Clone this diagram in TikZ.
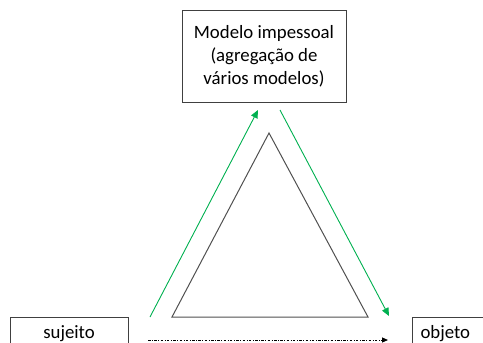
\documentclass[tikz,border=0pt]{standalone}
\usepackage{fontspec}
\setmainfont{Carlito}
\usetikzlibrary{arrows.meta}
\definecolor{boxgray}{HTML}{404040}
\definecolor{trigray}{HTML}{505050}
\definecolor{arrgreen}{HTML}{00B050}
\tikzset{
  box/.style={draw=boxgray, line width=1pt, font=\fontsize{18.8}{23}\selectfont},
  greenarr/.style={draw=arrgreen, line width=0.9pt, -{Triangle[length=8pt,width=7pt]}},
  dotarr/.style={draw=black, line width=1pt, dash pattern=on 2.5pt off 1.5pt on 0.8pt off 1.5pt, -{Triangle[length=6pt,width=5pt]}}
}
\begin{document}
\begin{tikzpicture}[x=1pt,y=1pt]
  \useasboundingbox (0,0) rectangle (483,-343);
  % nodes
  \node [box, align=center, minimum width=164, minimum height=92] (modelo) at (264,-56)
    {Modelo impessoal\\(agregação de\\vários modelos)};
  \node [box, minimum width=118, minimum height=34] (sujeito) at (69,-334) {sujeito};
  \node [box, anchor=west, minimum height=34, inner xsep=8, text width=70, align=left] (objeto) at (412,-334) {objeto};
  % triangle
  \draw [trigray, line width=1pt, line join=miter] (269,-133) -- (368,-317) -- (172,-317) -- cycle;
  % arrows
  \coordinate (gl1) at (150,-317);
  \coordinate (gl2) at (258,-110);
  \coordinate (gr1) at (280,-110);
  \coordinate (gr2) at (389,-316);
  \coordinate (d1) at (148,-340);
  \coordinate (d2) at (388,-340);
  \draw [greenarr] (gl1) -- (gl2);
  \draw [greenarr] (gr1) -- (gr2);
  \draw [dotarr] (d1) -- (d2);
\end{tikzpicture}
\end{document}
